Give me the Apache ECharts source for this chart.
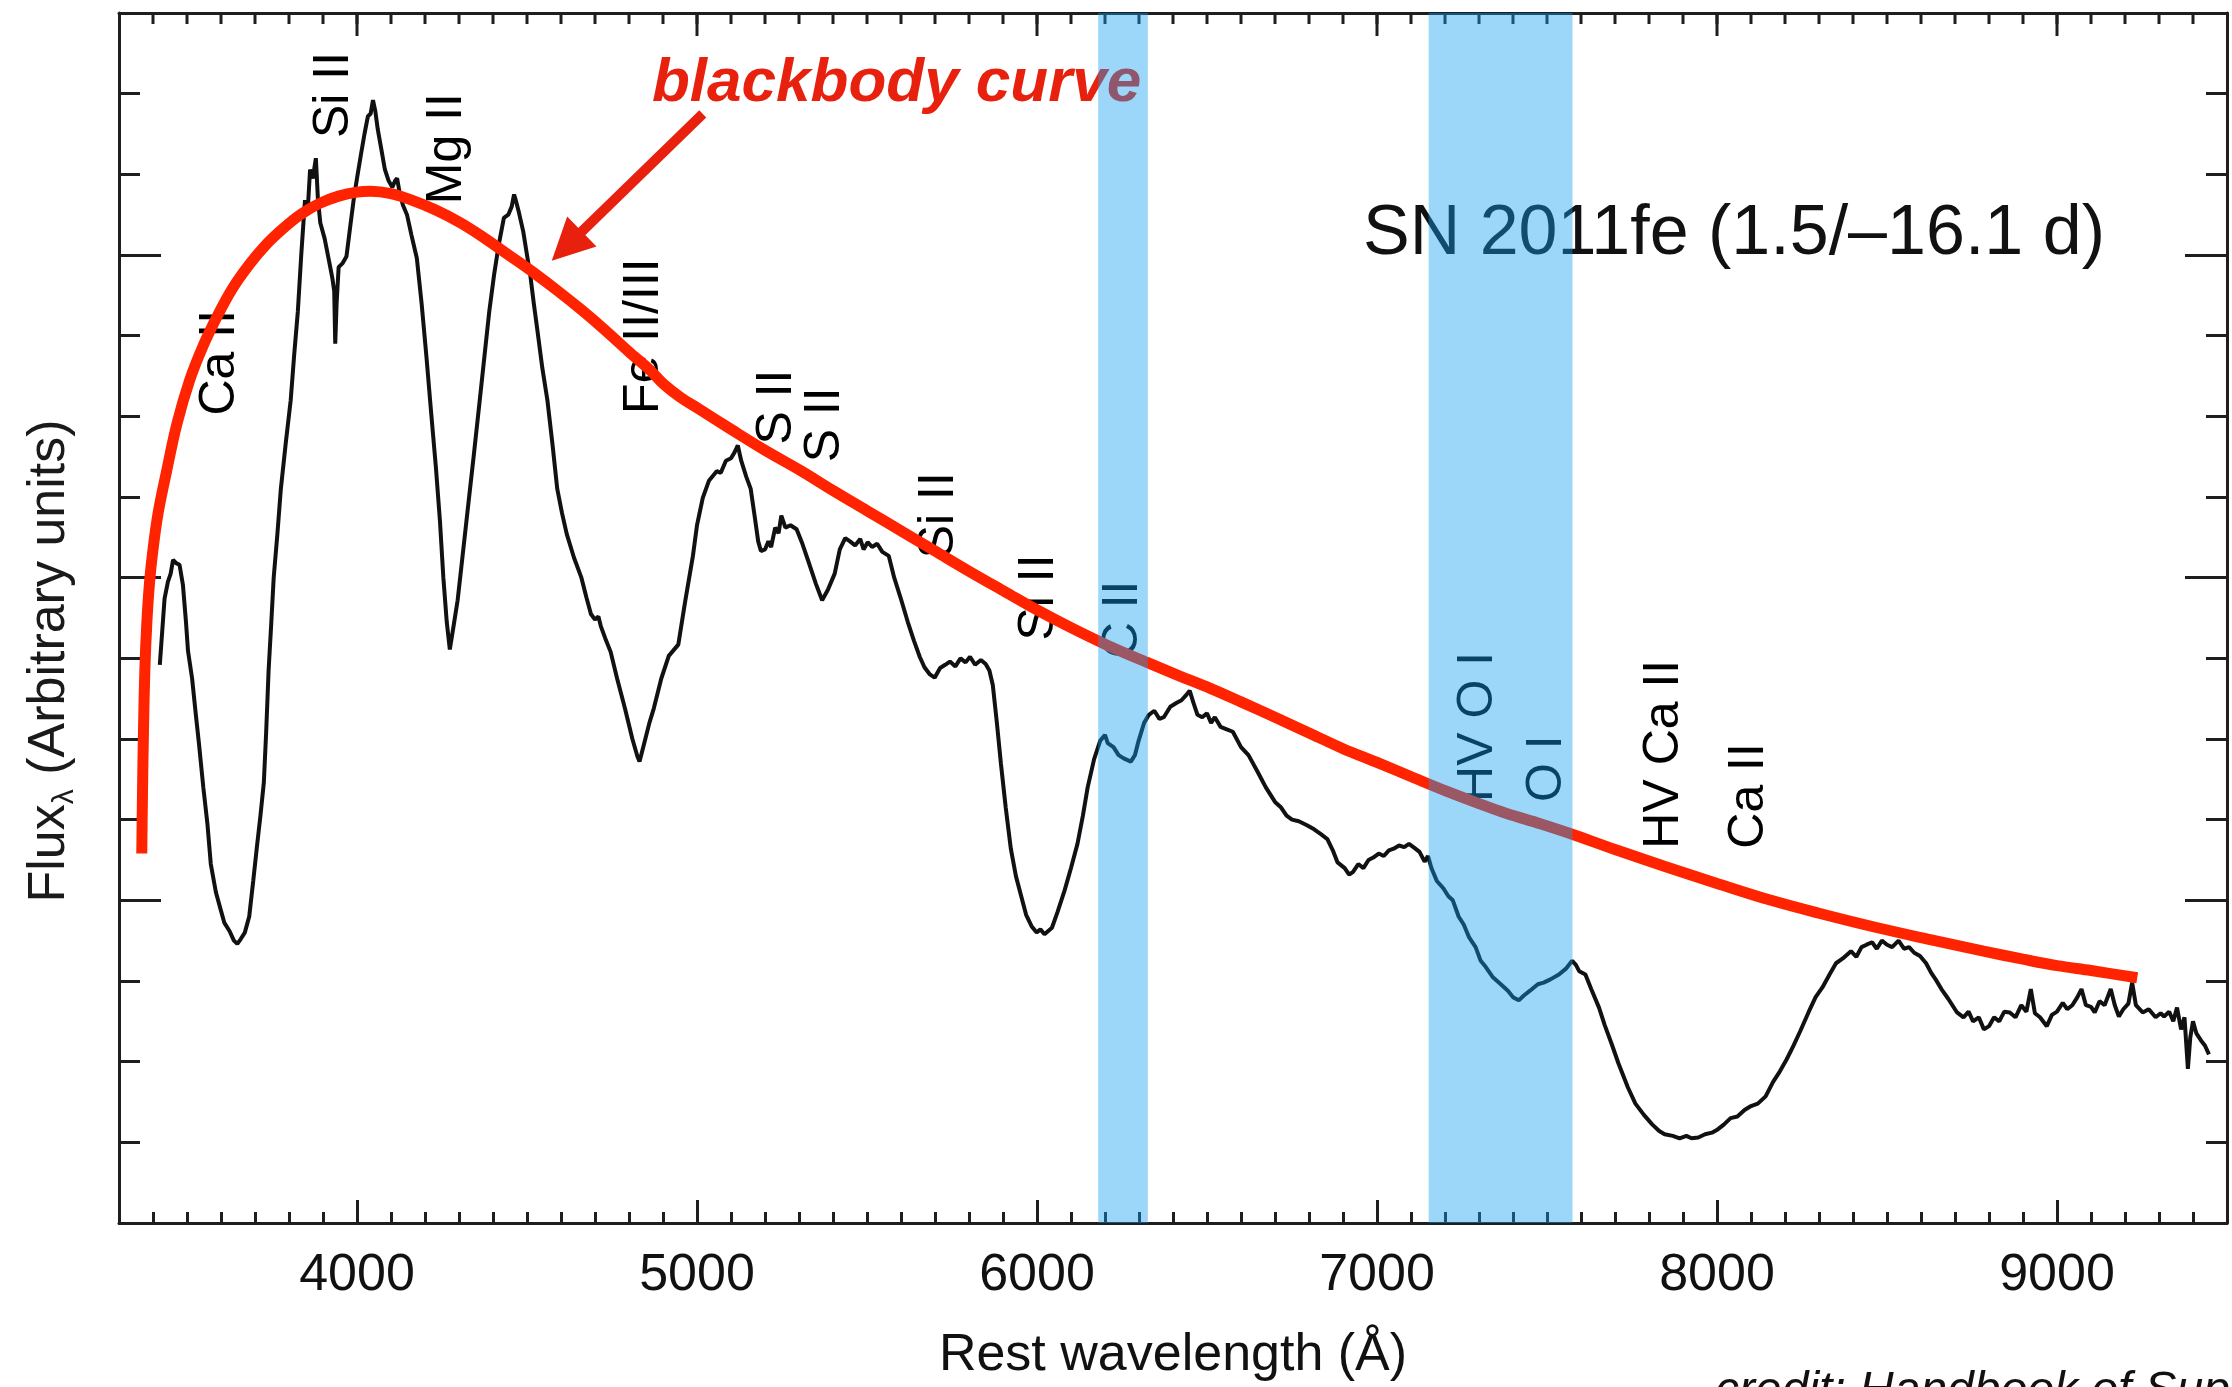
<!DOCTYPE html>
<html>
<head>
<meta charset="UTF-8">
<title>SN 2011fe</title>
<style>
  html, body { margin: 0; padding: 0; background: #fff; }
  #chart { width: 2232px; height: 1387px; }
</style>
</head>
<body>
<div id="chart"></div>
<script src="https://cdn.jsdelivr.net/npm/echarts@6/dist/echarts.min.js"></script>
<script>
// spectrum, wavelength in Å, flux in axis tick units (arbitrary)
var specWave = [3420, 3434, 3444, 3452, 3459, 3468, 3478, 3488, 3497, 3503, 3515, 3526, 3535, 3548, 3560, 3570, 3585, 3598, 3610, 3625,
  3638, 3648, 3658, 3670, 3683, 3695, 3705, 3716, 3726, 3733, 3740, 3748, 3755, 3766, 3776, 3790, 3805, 3815, 3826, 3836,
  3847, 3855, 3862, 3870, 3879, 3885, 3892, 3905, 3919, 3928, 3933, 3936, 3940, 3946, 3958, 3969, 3980, 3990, 4000, 4011,
  4022, 4032, 4040, 4047, 4054, 4061, 4072, 4082, 4093, 4104, 4112, 4118, 4125, 4135, 4147, 4160, 4176, 4190, 4204, 4218,
  4232, 4244, 4254, 4264, 4273, 4284, 4296, 4310, 4325, 4343, 4361, 4375, 4389, 4403, 4417, 4432, 4445, 4455, 4462, 4467,
  4475, 4489, 4500, 4510, 4520, 4532, 4545, 4560, 4575, 4589, 4603, 4617, 4638, 4660, 4675, 4688, 4700, 4710, 4717, 4730,
  4746, 4765, 4788, 4810, 4825, 4831, 4845, 4860, 4873, 4895, 4917, 4945, 4965, 4988, 5000, 5017, 5035, 5058, 5070, 5085,
  5100, 5110, 5120, 5130, 5145, 5158, 5170, 5180, 5188, 5200, 5210, 5218, 5230, 5240, 5248, 5260, 5275, 5293, 5310, 5331,
  5350, 5368, 5385, 5405, 5420, 5436, 5450, 5465, 5480, 5490, 5502, 5515, 5530, 5545, 5564, 5580, 5601, 5620, 5638, 5655,
  5669, 5685, 5699, 5715, 5730, 5744, 5760, 5775, 5790, 5803, 5818, 5835, 5849, 5860, 5870, 5882, 5894, 5908, 5923, 5938,
  5953, 5968, 5984, 5999, 6010, 6022, 6044, 6060, 6081, 6100, 6119, 6135, 6149, 6168, 6186, 6200, 6208, 6225, 6240, 6255,
  6276, 6288, 6299, 6315, 6329, 6345, 6360, 6373, 6392, 6411, 6425, 6440, 6449, 6460, 6472, 6486, 6500, 6512, 6523, 6540,
  6558, 6576, 6600, 6622, 6648, 6673, 6700, 6718, 6734, 6750, 6770, 6794, 6815, 6835, 6854, 6870, 6884, 6905, 6918, 6929,
  6945, 6960, 6975, 6989, 7005, 7020, 7035, 7049, 7065, 7080, 7094, 7110, 7125, 7140, 7150, 7160, 7176, 7195, 7210, 7223,
  7240, 7255, 7271, 7290, 7305, 7317, 7340, 7364, 7385, 7400, 7417, 7432, 7450, 7473, 7490, 7510, 7535, 7555, 7574, 7585,
  7595, 7613, 7630, 7653, 7670, 7691, 7710, 7738, 7760, 7785, 7810, 7830, 7846, 7870, 7890, 7910, 7925, 7945, 7965, 7985,
  8002, 8020, 8040, 8060, 8081, 8100, 8120, 8143, 8165, 8185, 8205, 8225, 8245, 8269, 8290, 8310, 8331, 8350, 8370, 8394,
  8410, 8425, 8440, 8456, 8470, 8485, 8500, 8515, 8534, 8550, 8565, 8580, 8597, 8615, 8630, 8643, 8660, 8680, 8706, 8725,
  8740, 8753, 8770, 8785, 8800, 8815, 8830, 8845, 8861, 8878, 8895, 8910, 8923, 8935, 8950, 8970, 8985, 9000, 9017, 9030,
  9045, 9060, 9072, 9085, 9100, 9111, 9125, 9140, 9158, 9170, 9182, 9195, 9210, 9221, 9232, 9252, 9270, 9290, 9305, 9315,
  9330, 9342, 9353, 9365, 9375, 9385, 9392, 9400, 9410, 9424, 9435, 9447];
var specFlux = [6.92, 7.74, 7.95, 8.05, 8.22, 8.18, 8.16, 7.91, 7.45, 7.09, 6.75, 6.30, 5.95, 5.40, 4.95, 4.45, 4.10, 3.90, 3.72, 3.62,
  3.50, 3.46, 3.52, 3.60, 3.80, 4.25, 4.64, 5.05, 5.46, 6.10, 6.85, 7.45, 8.00, 8.55, 9.10, 9.65, 10.20, 10.75, 11.30, 12.00,
  12.68, 12.55, 13.06, 12.95, 13.20, 12.70, 12.40, 12.20, 11.90, 11.70, 11.55, 10.90, 11.40, 11.85, 11.90, 11.98, 12.35, 12.68, 12.95, 13.23,
  13.50, 13.72, 13.75, 13.92, 13.78, 13.56, 13.30, 13.06, 12.92, 12.84, 12.92, 12.95, 12.78, 12.62, 12.50, 12.25, 11.96, 11.40, 10.75, 10.05,
  9.37, 8.70, 8.00, 7.45, 7.11, 7.40, 7.72, 8.25, 8.82, 9.50, 10.20, 10.75, 11.30, 11.75, 12.13, 12.46, 12.50, 12.60, 12.75, 12.68,
  12.55, 12.29, 12.00, 11.74, 11.40, 11.02, 10.60, 10.20, 9.65, 9.10, 8.80, 8.54, 8.25, 8.00, 7.75, 7.55, 7.48, 7.52, 7.40, 7.25,
  7.08, 6.75, 6.38, 6.00, 5.78, 5.72, 5.95, 6.20, 6.38, 6.75, 7.03, 7.17, 7.70, 8.27, 8.65, 8.99, 9.20, 9.32, 9.30, 9.45,
  9.48, 9.55, 9.64, 9.45, 9.25, 9.10, 8.75, 8.45, 8.33, 8.35, 8.45, 8.38, 8.62, 8.55, 8.77, 8.62, 8.65, 8.60, 8.42, 8.16,
  7.92, 7.72, 7.85, 8.05, 8.35, 8.49, 8.45, 8.40, 8.48, 8.35, 8.44, 8.38, 8.42, 8.32, 8.27, 8.00, 7.72, 7.45, 7.22, 7.02,
  6.89, 6.80, 6.76, 6.88, 6.92, 6.96, 6.90, 7.00, 6.95, 7.02, 6.92, 6.98, 6.93, 6.85, 6.67, 6.20, 5.69, 5.15, 4.64, 4.30,
  4.06, 3.82, 3.68, 3.60, 3.64, 3.58, 3.66, 3.85, 4.12, 4.40, 4.70, 5.05, 5.40, 5.75, 5.98, 6.05, 5.95, 5.90, 5.80, 5.76,
  5.72, 5.80, 5.98, 6.20, 6.30, 6.35, 6.25, 6.27, 6.40, 6.45, 6.48, 6.55, 6.60, 6.45, 6.30, 6.27, 6.32, 6.20, 6.27, 6.15,
  6.12, 6.09, 5.90, 5.80, 5.60, 5.40, 5.22, 5.15, 5.05, 5.00, 4.98, 4.93, 4.88, 4.82, 4.76, 4.62, 4.47, 4.40, 4.32, 4.35,
  4.45, 4.40, 4.50, 4.53, 4.58, 4.55, 4.62, 4.64, 4.68, 4.66, 4.70, 4.65, 4.60, 4.48, 4.55, 4.40, 4.24, 4.15, 4.05, 4.00,
  3.80, 3.70, 3.54, 3.42, 3.25, 3.19, 3.05, 2.96, 2.88, 2.80, 2.76, 2.82, 2.88, 2.96, 2.98, 3.02, 3.08, 3.15, 3.25, 3.20,
  3.12, 3.08, 2.90, 2.67, 2.45, 2.21, 1.98, 1.68, 1.48, 1.34, 1.22, 1.14, 1.10, 1.08, 1.05, 1.08, 1.05, 1.06, 1.10, 1.12,
  1.16, 1.22, 1.30, 1.32, 1.40, 1.45, 1.48, 1.57, 1.75, 1.88, 2.03, 2.20, 2.38, 2.61, 2.80, 2.92, 3.08, 3.22, 3.28, 3.37,
  3.30, 3.42, 3.45, 3.48, 3.40, 3.50, 3.45, 3.42, 3.50, 3.40, 3.42, 3.35, 3.31, 3.22, 3.10, 3.02, 2.90, 2.78, 2.61, 2.55,
  2.62, 2.50, 2.55, 2.40, 2.44, 2.55, 2.50, 2.62, 2.61, 2.55, 2.70, 2.62, 2.90, 2.60, 2.55, 2.44, 2.58, 2.62, 2.73, 2.65,
  2.70, 2.80, 2.90, 2.70, 2.68, 2.61, 2.75, 2.70, 2.90, 2.70, 2.56, 2.65, 2.72, 2.98, 2.70, 2.61, 2.65, 2.55, 2.60, 2.56,
  2.62, 2.50, 2.67, 2.40, 2.55, 1.91, 2.30, 2.50, 2.35, 2.26, 2.20, 2.09];

// hand drawn blackbody curve
var bbWave = [3367, 3369, 3372, 3376, 3382, 3390, 3400, 3415, 3439, 3470, 3508, 3548, 3590, 3633, 3683, 3733, 3783, 3833, 3890, 3946,
  4000, 4040, 4100, 4161, 4230, 4304, 4375, 4446, 4520, 4589, 4660, 4732, 4800, 4860, 4902, 4950, 5010, 5100, 5200, 5308,
  5400, 5500, 5608, 5700, 5800, 5908, 6000, 6100, 6208, 6329, 6420, 6508, 6600, 6700, 6808, 6900, 7000, 7108, 7200, 7300,
  7379, 7480, 7574, 7700, 7847, 8000, 8159, 8300, 8472, 8620, 8784, 8900, 9000, 9100, 9236];
var bbFlux = [4.58, 5.30, 6.10, 6.85, 7.45, 7.95, 8.35, 8.80, 9.30, 9.90, 10.45, 10.88, 11.25, 11.58, 11.88, 12.13, 12.33, 12.50, 12.64, 12.73,
  12.78, 12.79, 12.76, 12.68, 12.56, 12.40, 12.21, 12.00, 11.78, 11.56, 11.32, 11.06, 10.80, 10.58, 10.40, 10.24, 10.08, 9.84, 9.58, 9.32,
  9.08, 8.83, 8.56, 8.33, 8.08, 7.82, 7.60, 7.38, 7.16, 6.94, 6.78, 6.63, 6.46, 6.27, 6.06, 5.88, 5.71, 5.52, 5.36, 5.20,
  5.08, 4.95, 4.82, 4.63, 4.42, 4.21, 4.00, 3.84, 3.66, 3.52, 3.37, 3.27, 3.19, 3.13, 3.04];

// arrow from the label to the curve [wavelength, flux]
var arrowFrom = [5017, 13.75];
var arrowTo = [4617, 12.11];

// shaded bands (Å)
var bandCII = [6180, 6326];
var bandOI = [7152, 7575];

// line identifications: name, wavelength, flux at the start of the text
var lineNames = ['Ca II', 'Si II', 'Mg II', 'Fe II/III', 'S II', 'S II', 'Si II', 'Si II', 'C II', 'HV O I', 'O I', 'HV Ca II', 'Ca II'];
var lineWave = [3598, 3933, 4264, 4845, 5237, 5376, 5713, 6006, 6254, 7297, 7500, 7846, 8094];
var lineFlux = [10.01, 13.45, 12.63, 10.03, 9.65, 9.43, 8.24, 7.22, 7.00, 5.22, 5.22, 4.64, 4.64];

// axis ticks
var xMajor = [4000, 5000, 6000, 7000, 8000, 9000];
var xMinor = [];
for (var w = 3400; w < 9500; w += 100) xMinor.push(w);
var yMajor = [4, 8, 12];
var yMinor = [1, 2, 3, 4, 5, 6, 7, 8, 9, 10, 11, 12, 13, 14];

var FONT = '"Liberation Sans", Arial, Helvetica, sans-serif';
var AX = '#1e1e1e';
var PLOT_H = 1215;
var Y_MAX = 15;

var chart = echarts.init(document.getElementById('chart'));

function pairs(a, b) {
  var out = [];
  for (var i = 0; i < a.length; i++) out.push([a[i], b[i]]);
  return out;
}

function xAxisOf(pos, ticks, len, showLine) {
  return {
    type: 'value', position: pos, min: 3300, max: 9500,
    axisLine: { show: showLine, onZero: false, lineStyle: { color: AX, width: 3 } },
    axisTick: { show: ticks.length > 0, inside: true, length: len, customValues: ticks, lineStyle: { color: AX, width: 3 } },
    axisLabel: { show: false },
    splitLine: { show: false }
  };
}
function yAxisOf(pos, ticks, len, showLine) {
  return {
    type: 'value', position: pos, min: 0, max: Y_MAX,
    axisLine: { show: showLine, onZero: false, lineStyle: { color: AX, width: 3 } },
    axisTick: { show: true, inside: true, length: len, customValues: ticks, lineStyle: { color: AX, width: 3 } },
    axisLabel: { show: false },
    splitLine: { show: false }
  };
}

var xMain = xAxisOf('bottom', xMajor, 23, true);
xMain.axisLabel = {
  show: true, customValues: xMajor, fontSize: 52, color: '#111', fontFamily: FONT, margin: 27,
  formatter: function (v) { return String(v); }
};
xMain.name = 'Rest wavelength (Å)';
xMain.nameLocation = 'middle';
xMain.nameGap = 107;
xMain.nameTextStyle = { fontSize: 52, color: '#111', fontFamily: FONT };

var labelData = [];
for (var i = 0; i < lineNames.length; i++) labelData.push([lineWave[i], lineFlux[i], lineNames[i]]);

var texts = [
  {
    type: 'text', x: 50, y: 661, rotation: Math.PI / 2, z: 1,
    style: {
      text: '{a|Flux}{s|λ}{a| (Arbitrary units)}',
      align: 'center', verticalAlign: 'middle',
      rich: {
        a: { fontSize: 52, fontFamily: FONT, fill: '#1a1a1a', lineHeight: 60 },
        s: { fontSize: 30, fontFamily: FONT, fill: '#1a1a1a', lineHeight: 28, verticalAlign: 'bottom' }
      }
    }
  },
  {
    type: 'text', x: 1363, y: 235, z: 1,
    style: { text: 'SN 2011fe (1.5/–16.1 d)', fontSize: 70, fontFamily: FONT, fill: '#111', align: 'left', verticalAlign: 'middle' }
  },
  {
    type: 'text', x: 652, y: 84, z: 1,
    style: { text: 'blackbody curve', fontSize: 62, fontWeight: 'bold', fontStyle: 'italic', fontFamily: FONT, fill: '#e8210f', align: 'left', verticalAlign: 'middle' }
  },
  {
    type: 'text', x: 1715, y: 1392, z: 1,
    style: { text: 'credit: Handbook of Supernovae', fontSize: 48, fontStyle: 'italic', fontFamily: FONT, fill: '#111', align: 'left', verticalAlign: 'middle' }
  }
];

var option = {
  animation: false,
  backgroundColor: '#fff',
  grid: { left: 119, top: 13, width: 2108, height: PLOT_H, containLabel: false },
  xAxis: [
    xMain,
    xAxisOf('bottom', xMinor, 11, false),
    xAxisOf('top', [], 0, true)
  ],
  yAxis: [
    yAxisOf('left', yMajor, 42, true),
    yAxisOf('left', yMinor, 21, false),
    yAxisOf('right', yMajor, 42, true),
    yAxisOf('right', yMinor, 21, false)
  ],
  graphic: texts,
  series: [
    {
      name: 'lines', type: 'scatter', silent: true, z: 2,
      symbolSize: 0,
      itemStyle: { opacity: 1 },
      data: labelData,
      label: {
        show: true, position: 'inside', rotate: 90, align: 'left', verticalAlign: 'middle',
        fontSize: 50, fontFamily: FONT, color: '#000', textBorderWidth: 0, opacity: 1,
        formatter: function (p) { return p.value[2]; }
      },
      emphasis: { disabled: true }
    },
    {
      name: 'spectrum', type: 'line', silent: true, z: 3,
      data: pairs(specWave, specFlux),
      showSymbol: false,
      lineStyle: { color: '#111', width: 4 },
      emphasis: { disabled: true }
    },
    {
      name: 'blackbody', type: 'line', silent: true, z: 4,
      data: pairs(bbWave, bbFlux),
      smooth: 0.35,
      showSymbol: false,
      lineStyle: { color: '#ff2300', width: 11, cap: 'butt' },
      emphasis: { disabled: true },
      markLine: {
        silent: true, z: 5,
        symbol: ['none', 'triangle'], symbolSize: 42,
        label: { show: false },
        lineStyle: { color: '#e8210f', width: 10, type: 'solid' },
        itemStyle: { color: '#e8210f' },
        emphasis: { disabled: true },
        data: [[{ coord: arrowFrom }, { coord: arrowTo }]]
      }
    },
    {
      name: 'bands', type: 'line', silent: true, z: 50, data: [],
      markArea: {
        silent: true, z: 50,
        itemStyle: { color: 'rgba(20,160,240,0.42)' },
        data: [
          [{ xAxis: bandCII[0] }, { xAxis: bandCII[1] }],
          [{ xAxis: bandOI[0] }, { xAxis: bandOI[1] }]
        ]
      }
    }
  ]
};

chart.setOption(option);

// ticks hanging from the top frame, placed through the chart's own x scale
var topY = chart.convertToPixel({ yAxisIndex: 0 }, Y_MAX);
function addTopTicks(values, len) {
  for (var i = 0; i < values.length; i++) {
    var px = chart.convertToPixel({ xAxisIndex: 0 }, values[i]);
    texts.push({
      type: 'line', z: 10, silent: true,
      shape: { x1: px, y1: topY, x2: px, y2: topY + len },
      style: { stroke: AX, lineWidth: 3 }
    });
  }
}
addTopTicks(xMinor, 11);
addTopTicks(xMajor, 23);
chart.setOption({ graphic: texts });
</script>
</body>
</html>
